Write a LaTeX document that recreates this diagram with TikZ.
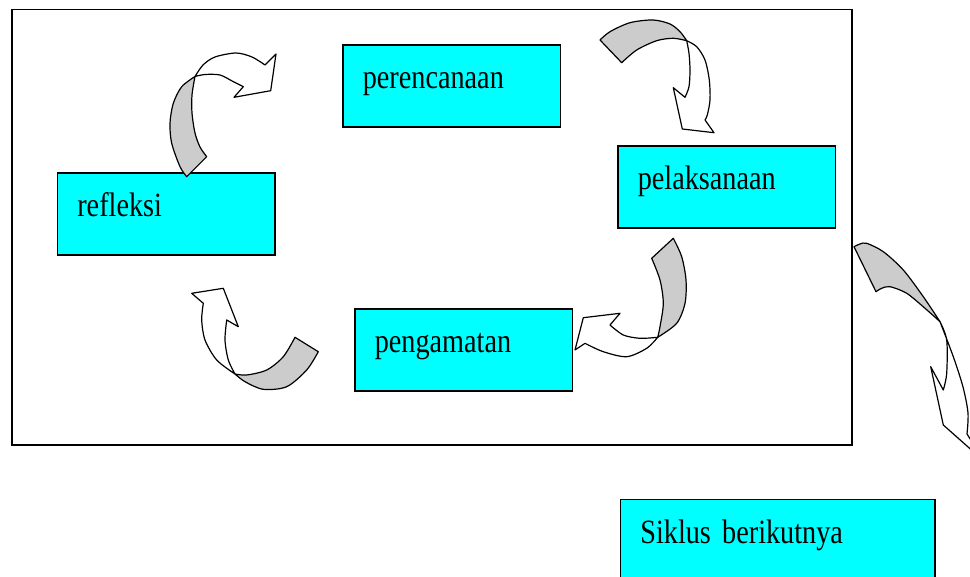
\documentclass[tikz,border=0pt]{standalone}
\usepackage{fontspec}
\setmainfont{Liberation Serif}[FakeStretch=0.83]
\definecolor{boxcyan}{RGB}{0,255,255}
\definecolor{twistgray}{RGB}{204,204,204}

\begin{document}
\begin{tikzpicture}[x=1pt,y=-1pt,
	box/.style={draw,fill=boxcyan,line width=1.7pt,anchor=north west,align=left,
		text width=177.5pt,inner xsep=20pt,inner ysep=0pt,
		text height=44pt,text depth=38pt,font=\fontsize{34}{40}\selectfont},
	back/.style={draw,fill=twistgray,line width=1.2pt,line join=round},
	front/.style={draw,fill=white,line width=1.2pt,line join=round}]
	\useasboundingbox (0,0) rectangle (970,577);
	\draw[line width=1.7pt] (12,9.5) rectangle (852,445);
	
	\node[box](plan) at (342,44){perencanaan};
	\node[box](act) at (617,145){pelaksanaan};
	\node[box](refl) at (56.5,172){refleksi};
	\node[box](obs) at (354,308){pengamatan};
	\node[box,text width=274.5pt](next) at (619.5,498.5){Siklus berikutnya};
	
	\draw[back] plot[smooth] coordinates {(186.7,176.7) (180,166.7) (171.7,143.3) (170,123.3) (173.3,103.3) (181.7,86.7) (195,76.5)}
		-- plot[smooth] coordinates {(195,76.5) (192,95) (192,113) (195,133) (200,147) (206.7,156.7)} -- cycle;
	\draw[front] plot[smooth] coordinates {(195,76.5) (203,65) (215,57) (236,53) (252,57) (265,65)}
		-- (276,54) -- (270.7,90.7) -- (234,97.3)
		-- plot[smooth] coordinates {(243.3,86.7) (233,81.5) (220,75) (205,74.5) (195,76.5)} -- cycle;
	
	\draw[back] plot[smooth] coordinates {(600,40) (610,31.7) (630,22.7) (653,20) (670,24) (680,31.7) (686.7,40.7)}
		-- plot[smooth] coordinates {(686.7,40.7) (673.3,38.3) (656.7,40.7) (636.7,50) (621.7,62.7)} -- cycle;
	\draw[front] plot[smooth] coordinates {(686.7,40.7) (696.7,46.7) (705,60) (709.3,80) (710,100) (707.3,115) (705,120)}
		-- (714,132.7) -- (682.3,129) -- (673.3,87.7)
		-- plot[smooth] coordinates {(685,97.3) (689,86.7) (690,70) (689,53.3) (686.7,40.7)} -- cycle;
	
	\draw[back] plot[smooth] coordinates {(673.3,238.3) (681.7,256.7) (686,280) (685,303.3) (676.7,323.3) (657.7,337.3)}
		-- plot[smooth] coordinates {(657.7,337.3) (660,326.7) (663.3,303.3) (660,280) (651.7,258.3)} -- cycle;
	\draw[front] plot[smooth] coordinates {(657.7,337.3) (646.7,348.3) (626.7,356.7) (603.3,351.7) (585,343.3)}
		-- (575,350) -- (583.3,317.7) -- (620,313.3)
		-- plot[smooth] coordinates {(610,325) (623.3,335) (640,338.3) (657.7,337.3)} -- cycle;
	
	\draw[back] plot[smooth] coordinates {(318.3,351.7) (306.7,370) (286.7,386.7) (263.3,389.3) (245,381.7) (235,374)}
		-- plot[smooth] coordinates {(235,374) (246.7,375) (266.7,370) (283.3,356.7) (295,337.3)} -- cycle;
	\draw[front] plot[smooth] coordinates {(235,374) (216.7,360) (205,340) (201.7,320) (203.3,303.3)}
		-- (191.7,293.3) -- (223.3,288.3) -- (238.3,326.7)
		-- plot[smooth] coordinates {(226.7,320) (225,340) (228.3,360) (235,374)} -- cycle;
	
	\draw[back] plot[smooth] coordinates {(854,246.7) (860,244) (866.7,243.3) (883.3,251.7) (903.3,270) (923.3,296.7) (940,321.7)}
		-- plot[smooth] coordinates {(940,321.7) (925,308.3) (906.7,293.3) (890,286.7) (881.7,288.3) (876,291.7)} -- cycle;
	\draw[front] plot[smooth] coordinates {(940,321.7) (953.3,356.7) (963,387) (968,413) (967,434)}
		-- (985,462) -- (943.3,425) -- (930.7,366.7)
		-- plot[smooth] coordinates {(943.3,390) (946.7,373.3) (946.7,340) (940,321.7)} -- cycle;
\end{tikzpicture}
\end{document}
